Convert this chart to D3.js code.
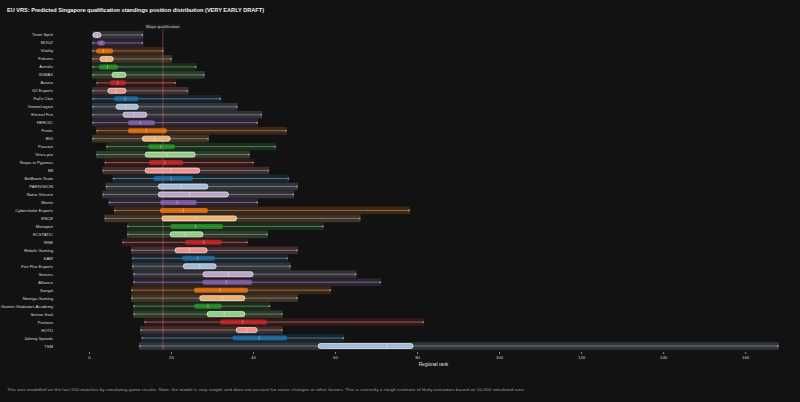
<!DOCTYPE html>
<html>
<head>
<meta charset="utf-8">
<script src="https://cdn.jsdelivr.net/npm/d3@7"></script>
<style>
  html, body { margin: 0; padding: 0; background: #121212; }
  svg { display: block; }
</style>
</head>
<body>
<div id="chart"></div>
<script>
// teams, top to bottom
const teams = [
  "Team Spirit", "MOUZ", "Vitality", "Falcons", "Astralis", "3DMAX", "Aurora", "G2 Esports",
  "FaZe Clan", "GamerLegion", "Eternal Fire", "HEROIC", "Fnatic", "BIG", "Passion", "Virtus.pro",
  "Ninjas in Pyjamas", "B8", "BetBoom Team", "PARIVISION", "Natus Vincere", "Monte", "Cybershoke Esports", "ENCE",
  "Metizport", "ECSTATIC", "9INE", "Rebels Gaming", "SAW", "Fire Flux Esports", "Sinners", "Alliance",
  "Sangal", "Nemiga Gaming", "Gaimin Gladiators Academy", "Iberian Soul", "Partizan", "HOTU", "Johnny Speeds", "TSM"
];

// simulated regional rank distribution per team
const rankMin = [1, 1, 1, 1, 1, 1, 2, 1, 1, 1, 1, 1, 2, 1, 4.4, 2, 4, 3.5, 6, 4.3,
  3.5, 5, 6.3, 4, 9.5, 9.5, 8.3, 10.5, 10.7, 10.7, 11, 11, 10.5, 10.5, 11, 11, 13.7, 12.7, 13, 12.4];
const rankQ1 = [1, 2, 1.7, 2.7, 2.4, 5.6, 5.1, 4.6, 6.1, 6.6, 8.3, 9.5, 9.5, 13, 14.4, 13.7, 14.6, 13.7, 15.7, 16.9,
  16.9, 17.3, 17.3, 17.8, 19.8, 19.8, 23.4, 21, 22.7, 23, 27.8, 27.6, 25.6, 27, 25.6, 28.8, 32, 35.9, 35, 55.9];
const rankMedian = [2, 3, 3.5, 4.2, 4.5, 7, 7, 6.5, 8.8, 9, 11, 12.5, 14, 16, 17.5, 19, 18.5, 20, 20, 22.5,
  24.5, 21.5, 23, 26, 26, 23.5, 28, 24.5, 26.5, 27, 34, 33.5, 32, 32.5, 29, 33, 37.5, 38.5, 41.5, 72.7];
const rankQ3 = [2.9, 3.9, 5.9, 5.9, 7.1, 9, 9, 9, 12, 12, 14.1, 16.1, 19, 19.8, 21, 25.9, 23, 27, 25.4, 29,
  34, 26.3, 29, 36, 32.7, 27.8, 32.4, 28.8, 30.7, 31, 40, 39.8, 38.8, 38, 32.4, 38, 43.4, 41, 48.3, 79];
const rankMax = [13, 13, 18, 20, 26, 28, 21, 24, 32, 36, 42, 41, 48, 29, 45.4, 39, 40, 43.7, 48.6, 50.7,
  49.8, 41, 78, 66, 57, 43.4, 38.5, 50.7, 48.3, 49, 65, 71, 58.8, 50.7, 44, 47, 81.5, 47, 62, 168];

const xTicks = [0, 20, 40, 60, 80, 100, 120, 140, 160];
const majorCut = 18;

// tab20-like pairs, cycling every ten rows
const palette = ["#c5b0d5", "#9467bd", "#ff7f0e", "#ffbb78", "#2ca02c", "#98df8a", "#d62728", "#ff9896", "#1f77b4", "#aec7e8"];
const isLight = [true, false, false, true, false, true, false, true, false, true];

const titleText = "EU VRS: Predicted Singapore qualification standings position distribution (VERY EARLY DRAFT)";
const footText = "This was modelled on the last 200 matches by simulating game results. Note: the model is very simple and does not account for roster changes or other factors. This is currently a rough estimate of likely outcomes based on 10,000 simulated runs.";

/*******************************/
/*    Declare the constants    */
/*******************************/
const width = 800;
const height = 402;

const data = teams.map((t, i) => ({
  team: t,
  lo: rankMin[i], q1: rankQ1[i], med: rankMedian[i], q3: rankQ3[i], hi: rankMax[i],
  colour: palette[i % 10], light: isLight[i % 10]
}));

const svg = d3.select("#chart")
  .append("svg")
    .attr("width", width)
    .attr("height", height)
    .style("background", "#121212");

const xScale = d3.scaleLinear()
  .domain([0, 168.5])
  .range([89, 780]);

const yScale = d3.scaleBand()
  .domain(teams)
  .range([31, 350]);

const rowMid = d => yScale(d.team) + yScale.bandwidth() / 2;

// title
svg.append("text")
  .text(titleText)
  .attr("x", 7)
  .attr("y", 12)
  .attr("fill", "#f2f2f2")
  .attr("font-family", "Liberation Sans, sans-serif")
  .attr("font-weight", "bold")
  .attr("font-size", 6)
  .attr("textLength", 257)
  .attr("lengthAdjust", "spacingAndGlyphs");

// major qualification line
svg.append("line")
  .attr("x1", xScale(majorCut))
  .attr("x2", xScale(majorCut))
  .attr("y1", 29)
  .attr("y2", 350)
  .attr("stroke", "#6b2a3a")
  .attr("stroke-opacity", 0.8)
  .attr("stroke-width", 1.6);

svg.append("rect")
  .attr("x", xScale(majorCut) - 18)
  .attr("y", 23.5)
  .attr("width", 36)
  .attr("height", 6)
  .attr("fill", "#1a1a1a");

svg.append("text")
  .text("Major qualification")
  .attr("x", xScale(majorCut))
  .attr("y", 28)
  .attr("text-anchor", "middle")
  .attr("fill", "#cfcfcf")
  .attr("font-family", "Liberation Sans, sans-serif")
  .attr("font-size", 4.2);

const rows = svg.append("g")
  .selectAll("g.row")
  .data(data)
  .join("g")
    .attr("class", "row");

// wide faint band over full range
rows.append("rect")
  .attr("x", d => xScale(d.lo) - 1)
  .attr("y", d => rowMid(d) - 3.8)
  .attr("width", d => xScale(d.hi) - xScale(d.lo) + 2)
  .attr("height", 7.6)
  .attr("fill", d => d.colour)
  .attr("fill-opacity", 0.2);

// whisker
rows.append("line")
  .attr("x1", d => xScale(d.lo))
  .attr("x2", d => xScale(d.hi))
  .attr("y1", rowMid)
  .attr("y2", rowMid)
  .attr("stroke", "#a8a8a8")
  .attr("stroke-opacity", 0.7)
  .attr("stroke-width", 0.8);

rows.selectAll("circle")
  .data(d => [d.lo, d.hi].map(v => ({v, d})))
  .join("circle")
    .attr("cx", p => xScale(p.v))
    .attr("cy", p => rowMid(p.d))
    .attr("r", 0.9)
    .attr("fill", "#9a9a9a");

// interquartile box
rows.append("rect")
  .attr("x", d => xScale(d.q1))
  .attr("y", d => rowMid(d) - 2.5)
  .attr("width", d => Math.max(3, xScale(d.q3) - xScale(d.q1)))
  .attr("height", 5)
  .attr("rx", 2.2)
  .attr("fill", d => d.colour)
  .attr("fill-opacity", d => d.light ? 0.9 : 0.75)
  .attr("stroke", d => d.light ? "#f4f4f4" : "none")
  .attr("stroke-width", 0.7);

// median tick
rows.append("line")
  .attr("x1", d => xScale(d.med))
  .attr("x2", d => xScale(d.med))
  .attr("y1", d => rowMid(d) - 2)
  .attr("y2", d => rowMid(d) + 2)
  .attr("stroke", "#ffffff")
  .attr("stroke-opacity", 0.5)
  .attr("stroke-width", 0.7);

// team labels
svg.append("g")
  .selectAll("text")
  .data(data)
  .join("text")
    .text(d => d.team)
    .attr("x", 53)
    .attr("y", d => rowMid(d) + 1.5)
    .attr("text-anchor", "end")
    .attr("fill", "#d8d8d8")
    .attr("font-family", "Liberation Sans, sans-serif")
    .attr("font-size", 4.2);

// x axis
const xAxis = d3.axisBottom(xScale)
  .tickValues(xTicks)
  .tickSize(2)
  .tickPadding(1.5);

const axisG = svg.append("g")
  .attr("transform", "translate(0, 352)")
  .call(xAxis);

axisG.select(".domain").remove();
axisG.selectAll("line").attr("stroke", "#888");
axisG.selectAll("text")
  .attr("fill", "#d0d0d0")
  .attr("font-family", "Liberation Sans, sans-serif")
  .attr("font-size", 4.4);

svg.append("text")
  .text("Regional rank")
  .attr("x", xScale(84))
  .attr("y", 366)
  .attr("text-anchor", "middle")
  .attr("fill", "#e0e0e0")
  .attr("font-family", "Liberation Sans, sans-serif")
  .attr("font-size", 4.8);

// footnote
svg.append("text")
  .text(footText)
  .attr("x", 7)
  .attr("y", 391)
  .attr("fill", "#9a9a9a")
  .attr("font-family", "Liberation Sans, sans-serif")
  .attr("font-size", 4.4)
  .attr("textLength", 518)
  .attr("lengthAdjust", "spacingAndGlyphs");
</script>
</body>
</html>
